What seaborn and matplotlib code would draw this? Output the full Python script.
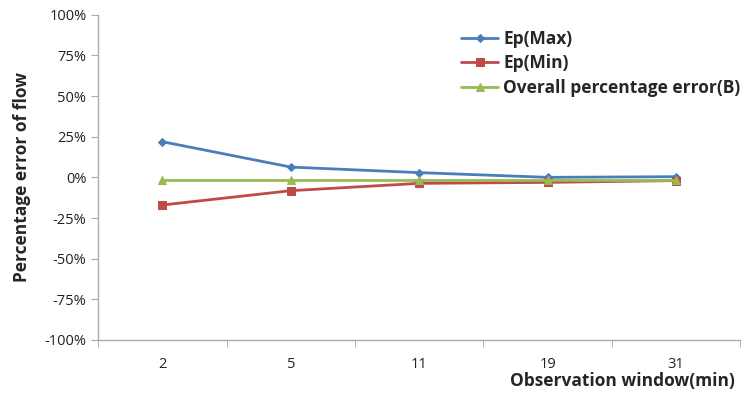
import numpy as np
import pandas as pd
import seaborn as sns
import matplotlib
matplotlib.use("Agg")
import matplotlib.pyplot as plt
from matplotlib.ticker import FixedLocator, PercentFormatter
from matplotlib.legend_handler import HandlerLine2D

windows = ["2", "5", "11", "19", "31"]
ep_max = [21.9, 6.3, 2.9, 0.0, 0.4]
ep_min = [-17.0, -8.2, -3.7, -3.1, -2.0]
overall = [-1.6, -1.6, -1.6, -1.6, -1.6]

series_names = ["Ep(Max)", "Ep(Min)", "Overall percentage error(B)"]
colors = ["#4A7EBB", "#BE4B48", "#98B954"]
markers = ["D", "s", "^"]
msizes = [4, 5.5, 6]

df = pd.DataFrame({
    "pos": list(range(len(windows))) * 3,
    "value": ep_max + ep_min + overall,
    "series": [series_names[0]] * 5 + [series_names[1]] * 5 + [series_names[2]] * 5,
})

sns.set_style("white")
plt.rcParams["font.family"] = ["Open Sans", "DejaVu Sans"]
plt.rcParams["axes.unicode_minus"] = False


class EndMarker(HandlerLine2D):
    # marker sits at the right end of the legend line, like Excel
    def get_xdata(self, legend, xdescent, ydescent, width, height, fontsize):
        xdata, _ = super().get_xdata(legend, xdescent, ydescent, width, height, fontsize)
        return xdata, np.array([xdata[-1] - 2])


fig = plt.figure(figsize=(7.56, 3.97), dpi=100)
ax = fig.add_axes([0.130, 0.1436, 0.849, 0.8194])

for name, c, m, ms in zip(series_names, colors, markers, msizes):
    sub = df[df["series"] == name]
    sns.lineplot(data=sub, x="pos", y="value", ax=ax, color=c, marker=m,
                 markersize=ms, markeredgecolor=c, linewidth=2.0, label=name)

ax.set_xlim(-0.5, 4.5)
ax.set_ylim(-100, 100)
ax.set_yticks(np.arange(-100, 101, 25))
ax.yaxis.set_major_formatter(PercentFormatter(decimals=0))
ax.set_xticks(range(len(windows)))
ax.set_xticklabels(windows)
ax.xaxis.set_minor_locator(FixedLocator(np.arange(-0.5, 4.6, 1)))
ax.tick_params(axis="x", which="major", length=0, pad=12, labelsize=10.5, colors="#222222")
ax.tick_params(axis="x", which="minor", length=5, color="#aaaaaa", direction="out", bottom=True)
ax.tick_params(axis="y", length=5, color="#aaaaaa", direction="out", left=True, labelsize=10.5, labelcolor="#222222")

for s in ["top", "right"]:
    ax.spines[s].set_visible(False)
for s in ["left", "bottom"]:
    ax.spines[s].set_color("#aaaaaa")
    ax.spines[s].set_linewidth(1)

ax.set_xlabel("")
ax.set_ylabel("Percentage error of flow", fontsize=12.5, fontweight="bold", labelpad=10)
fig.text(0.972, 0.04, "Observation window(min)", ha="right", va="center",
         fontsize=12.5, fontweight="bold")

handles, labels = ax.get_legend_handles_labels()
leg = ax.legend(handles, labels, loc="upper left", bbox_to_anchor=(0.555, 0.975), frameon=False,
                prop={"weight": "bold", "size": 12.5}, handlelength=2.1,
                handletextpad=0.3, labelspacing=0.38, borderaxespad=0,
                handler_map={h: EndMarker() for h in handles})

fig.savefig("out.png", dpi=100)
